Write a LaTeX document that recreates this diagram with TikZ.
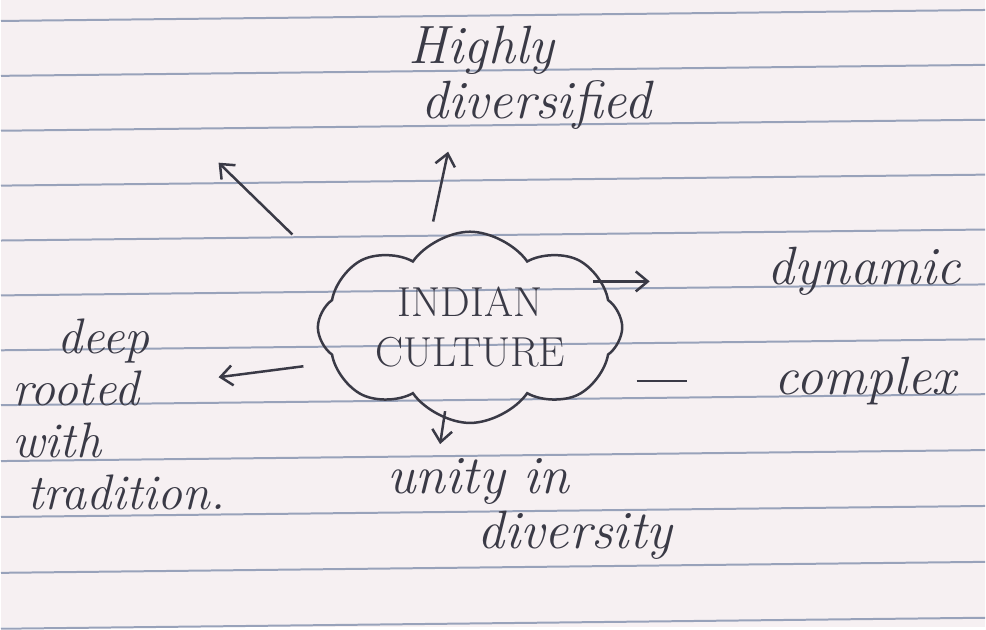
\documentclass[tikz,border=0pt]{standalone}
\usepackage{tikz}
\usetikzlibrary{shapes.symbols, arrows.meta}

\definecolor{paper}{HTML}{F6F0F2}
\definecolor{ruling}{HTML}{98A2BA}
\definecolor{ink}{HTML}{3A3A46}

\begin{document}
\begin{tikzpicture}[x=1pt, y=-1pt, >={Straight Barb[length=12pt, width=20pt]},
  hand/.style={ink, font=\fontsize{54}{56}\selectfont\itshape, inner sep=0pt, align=left},
  arr/.style={->, ink, line width=2.5pt}]
  % page with ruled lines
  \fill[paper] (0,0) rectangle (986,628);
  \foreach \y in {18,73,128,183,238,293,348,403,459,515,571,627}
    \draw[ruling, line width=2pt] (0,\y+3) -- (986,\y-8);

  % central cloud
  \node[cloud, draw=ink, line width=2.5pt, cloud puffs=8, cloud puff arc=110, aspect=1.8,
        minimum width=305pt, minimum height=175pt, inner sep=0pt, align=center,
        font=\fontsize{42}{50}\selectfont, text=ink] (cult) at (470,328) {INDIAN\\CULTURE};

  % branches
  \node[hand] (hd) at (530,78) {Highly\\\hspace*{13pt}diversified};
  \node[hand] (dyn) at (865,272) {dynamic};
  \node[hand] (cpx) at (866,382) {complex};
  \node[hand, font=\fontsize{50}{52}\selectfont\itshape] (deep) at (118,415)
    {\hspace*{45pt}deep\\rooted\\with\\\hspace*{15pt}tradition.};
  \node[hand] (unity) at (530,510) {unity in\\\hspace*{90pt}diversity};

  % arrow ends
  \coordinate (upA) at (433,222);  \coordinate (upB) at (448,152);
  \coordinate (ulA) at (292,235);  \coordinate (ulB) at (218,163);
  \coordinate (rtA) at (593,282);  \coordinate (rtB) at (650,282);
  \coordinate (cxA) at (637,382);  \coordinate (cxB) at (687,382);
  \coordinate (ltA) at (303,367);  \coordinate (ltB) at (218,378);
  \coordinate (dnA) at (445,412);  \coordinate (dnB) at (440,445);

  \draw[arr] (upA) -- (upB);
  \draw[arr] (ulA) -- (ulB);
  \draw[arr] (rtA) -- (rtB);
  \draw[ink, line width=2.5pt] (cxA) -- (cxB);
  \draw[arr] (ltA) -- (ltB);
  \draw[arr] (dnA) -- (dnB);
\end{tikzpicture}
\end{document}
